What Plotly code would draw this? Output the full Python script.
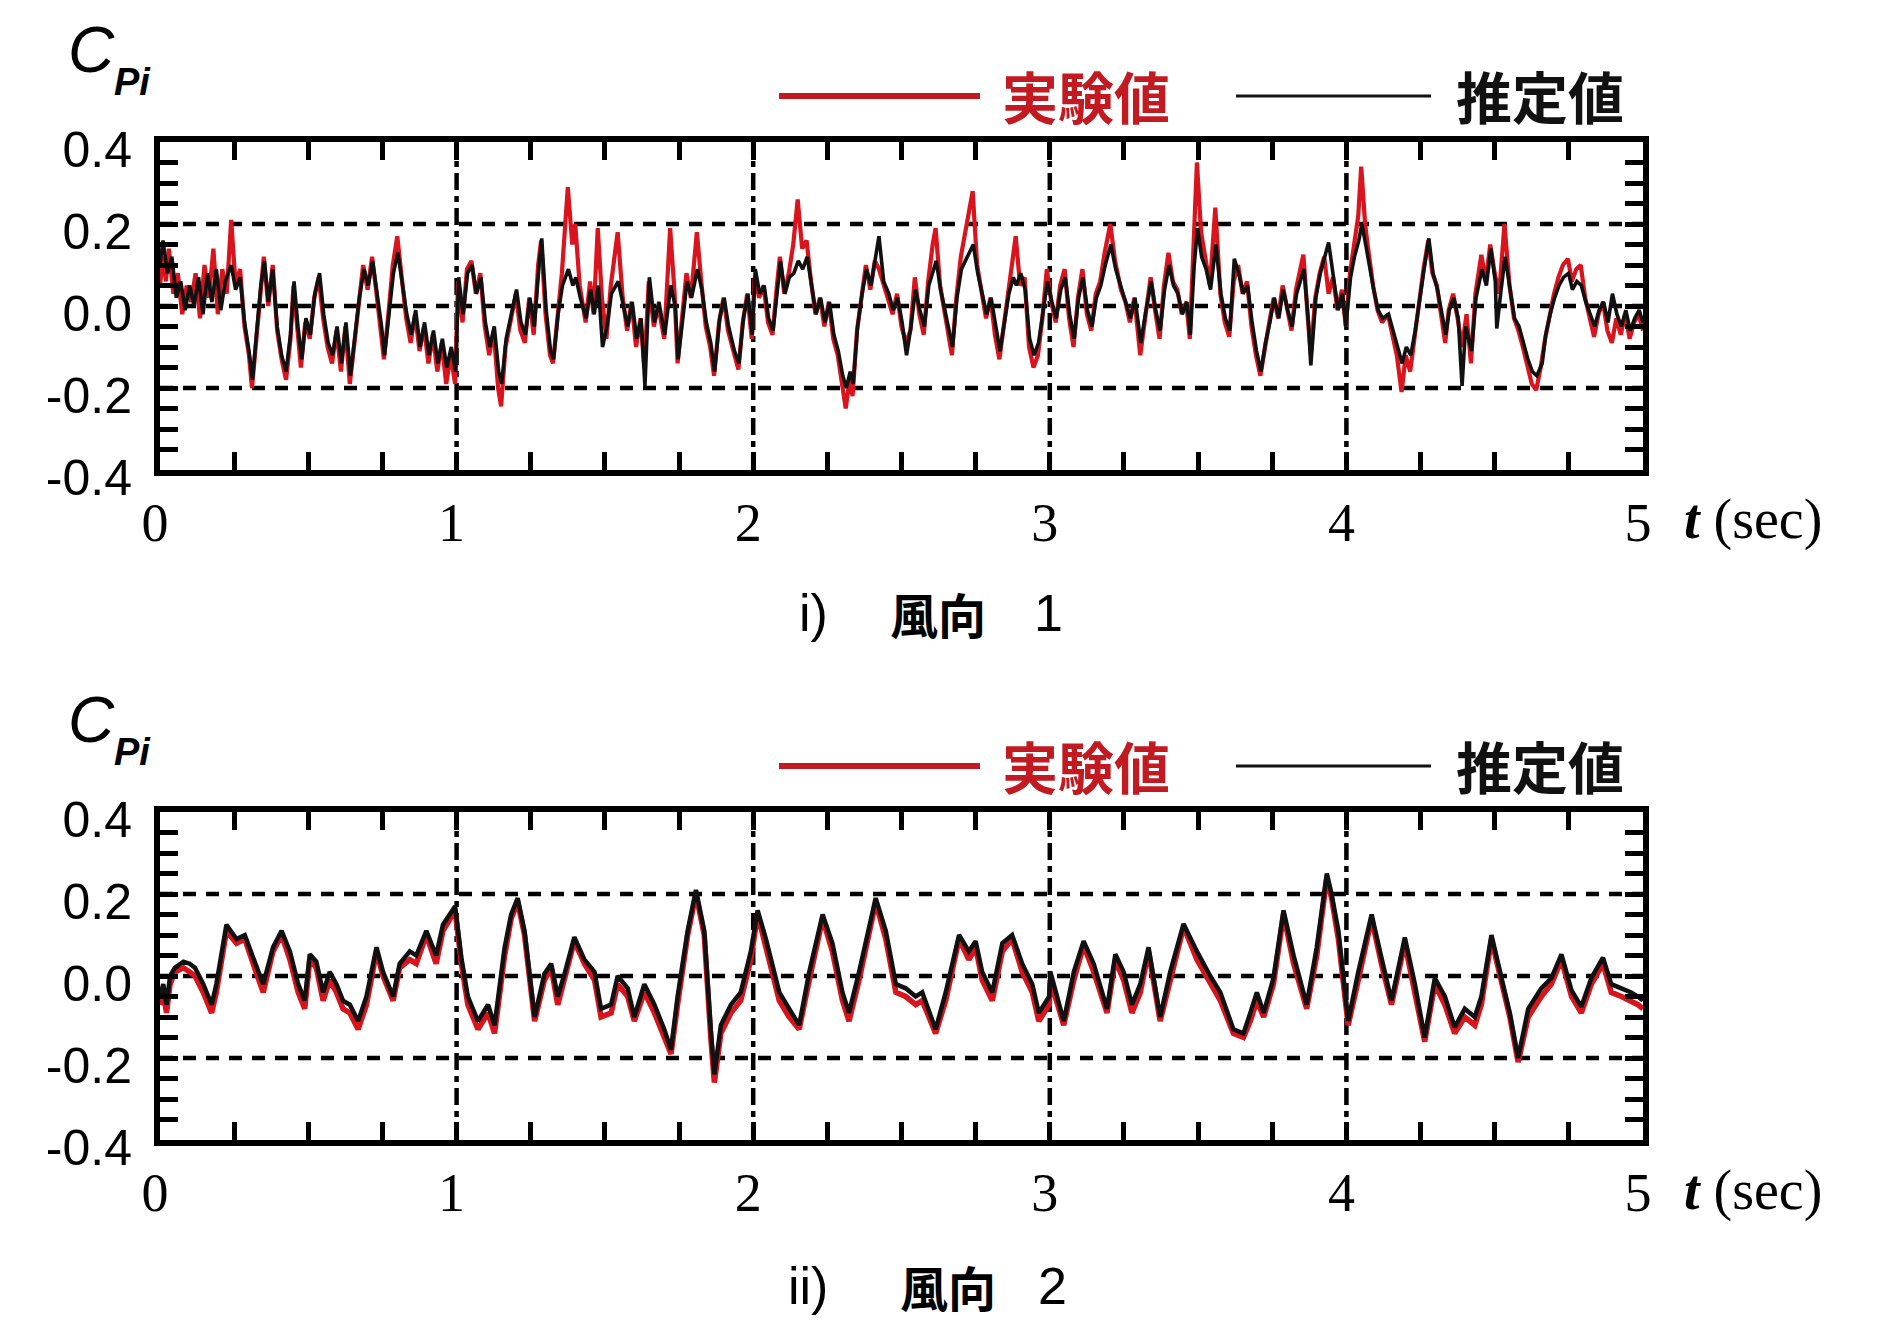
import plotly.graph_objects as go

W, H = 1886, 1321

# ---------------- data (t [sec], Cpi) ----------------
exp1 = [(0.000,0.05),(0.010,0.12),(0.020,0.06),(0.030,0.14),(0.045,0.03),(0.060,0.08),(0.075,-0.02),(0.090,0.05),(0.105,0.01),(0.120,0.08),
(0.135,-0.03),(0.150,0.10),(0.165,0.02),(0.180,0.14),(0.195,-0.02),(0.210,0.09),(0.225,0.03),(0.240,0.21),(0.255,0.05),(0.270,0.09),
(0.285,-0.05),(0.300,-0.12),(0.310,-0.20),(0.325,-0.08),(0.340,0.06),(0.350,0.12),(0.365,0.00),(0.380,0.10),(0.395,-0.06),(0.410,-0.13),
(0.425,-0.18),(0.440,-0.08),(0.450,0.05),(0.462,-0.06),(0.475,-0.15),(0.490,-0.04),(0.505,-0.08),(0.520,0.02),(0.535,0.07),(0.550,-0.03),
(0.565,-0.10),(0.580,-0.14),(0.595,-0.06),(0.610,-0.16),(0.625,-0.05),(0.640,-0.19),(0.655,-0.09),(0.670,0.02),(0.685,0.10),(0.700,0.04),
(0.715,0.12),(0.730,0.03),(0.745,-0.06),(0.755,-0.13),(0.770,-0.02),(0.785,0.10),(0.800,0.17),(0.815,0.06),(0.830,-0.03),(0.845,-0.09),
(0.860,-0.02),(0.875,-0.11),(0.890,-0.05),(0.905,-0.14),(0.920,-0.07),(0.935,-0.16),(0.950,-0.09),(0.965,-0.19),(0.980,-0.12),(0.995,-0.19),
(1.005,0.06),(1.020,-0.04),(1.035,0.09),(1.050,0.11),(1.065,0.03),(1.080,0.08),(1.095,-0.05),(1.110,-0.12),(1.125,-0.06),(1.140,-0.20),
(1.150,-0.245),(1.165,-0.10),(1.180,-0.04),(1.200,0.03),(1.215,-0.06),(1.230,-0.09),(1.245,0.02),(1.260,-0.07),(1.275,0.10),(1.285,0.16),
(1.300,-0.02),(1.315,-0.12),(1.325,-0.14),(1.340,-0.03),(1.355,0.08),(1.375,0.29),(1.390,0.15),(1.400,0.20),(1.415,0.05),(1.435,-0.04),
(1.450,0.06),(1.462,-0.02),(1.476,0.19),(1.490,0.02),(1.505,-0.08),(1.520,0.05),(1.543,0.18),(1.560,0.02),(1.575,-0.06),(1.590,0.01),
(1.605,-0.10),(1.620,-0.03),(1.633,-0.15),(1.648,0.06),(1.665,-0.05),(1.680,0.00),(1.700,-0.08),(1.720,0.19),(1.735,0.03),(1.745,-0.14),
(1.760,-0.04),(1.775,0.08),(1.790,0.02),(1.810,0.18),(1.825,0.06),(1.840,-0.05),(1.855,-0.10),(1.868,-0.17),(1.885,-0.04),(1.900,0.02),
(1.915,-0.06),(1.935,-0.12),(1.950,-0.155),(1.965,-0.04),(1.980,0.03),(1.995,-0.08),(2.005,0.07),(2.020,0.02),(2.035,0.05),(2.050,-0.04),
(2.065,-0.07),(2.080,0.05),(2.090,0.12),(2.105,0.03),(2.120,0.08),(2.135,0.15),(2.150,0.26),(2.165,0.14),(2.180,0.16),(2.195,0.06),
(2.210,-0.02),(2.225,0.02),(2.240,-0.05),(2.255,0.01),(2.270,-0.08),(2.285,-0.12),(2.300,-0.19),(2.312,-0.25),(2.325,-0.18),(2.335,-0.22),
(2.350,-0.06),(2.365,0.03),(2.380,0.10),(2.395,0.04),(2.410,0.11),(2.424,0.09),(2.440,0.05),(2.455,0.02),(2.470,-0.02),(2.485,0.03),
(2.500,-0.05),(2.515,-0.09),(2.530,-0.06),(2.545,0.07),(2.560,-0.02),(2.575,-0.07),(2.590,0.06),(2.605,0.15),(2.615,0.19),(2.630,0.05),
(2.645,-0.02),(2.660,-0.09),(2.670,-0.12),(2.685,0.02),(2.700,0.12),(2.720,0.20),(2.740,0.28),(2.755,0.10),(2.770,0.03),(2.785,-0.03),
(2.800,0.02),(2.815,-0.07),(2.830,-0.13),(2.845,-0.05),(2.860,0.04),(2.875,0.12),(2.885,0.17),(2.900,0.05),(2.915,0.07),(2.930,-0.10),
(2.945,-0.15),(2.960,-0.12),(2.975,-0.03),(2.990,0.09),(3.005,0.01),(3.020,-0.04),(3.035,0.05),(3.050,0.09),(3.065,-0.03),(3.080,-0.10),
(3.095,0.02),(3.110,0.09),(3.125,-0.02),(3.140,-0.06),(3.155,0.03),(3.170,0.06),(3.185,0.13),(3.204,0.20),(3.220,0.11),(3.240,0.04),
(3.255,0.01),(3.270,-0.04),(3.285,0.02),(3.305,-0.12),(3.320,-0.03),(3.340,0.07),(3.355,-0.01),(3.370,-0.08),(3.385,0.05),(3.400,0.13),
(3.415,0.06),(3.430,0.04),(3.445,-0.02),(3.460,0.01),(3.472,-0.08),(3.485,0.15),(3.496,0.35),(3.510,0.18),(3.525,0.12),(3.540,0.05),
(3.558,0.24),(3.575,0.03),(3.590,-0.04),(3.605,-0.075),(3.620,0.06),(3.635,0.10),(3.650,0.03),(3.665,0.06),(3.680,-0.05),(3.695,-0.12),
(3.710,-0.17),(3.725,-0.10),(3.740,-0.04),(3.755,0.02),(3.770,-0.03),(3.785,0.05),(3.800,-0.01),(3.815,-0.06),(3.830,0.04),(3.845,0.09),
(3.855,0.125),(3.870,-0.03),(3.880,-0.12),(3.895,0.02),(3.910,0.08),(3.925,0.12),(3.940,0.03),(3.955,0.07),(3.970,-0.01),(3.985,0.04),
(3.998,-0.05),(4.012,0.08),(4.025,0.15),(4.040,0.22),(4.050,0.34),(4.063,0.20),(4.075,0.13),(4.090,0.05),(4.105,-0.01),(4.120,-0.04),
(4.140,-0.02),(4.155,-0.07),(4.170,-0.12),(4.186,-0.21),(4.200,-0.12),(4.215,-0.16),(4.230,-0.07),(4.245,0.02),(4.260,0.09),(4.276,0.16),
(4.290,0.08),(4.305,0.05),(4.320,-0.02),(4.333,-0.09),(4.345,-0.01),(4.360,0.03),(4.375,-0.03),(4.390,-0.10),(4.405,-0.02),(4.420,-0.14),
(4.435,0.03),(4.455,0.125),(4.470,0.06),(4.485,0.15),(4.500,0.08),(4.515,0.03),(4.533,0.20),(4.550,0.05),(4.565,-0.03),(4.580,-0.06),
(4.595,-0.10),(4.610,-0.15),(4.625,-0.19),(4.640,-0.205),(4.655,-0.15),(4.670,-0.08),(4.685,-0.02),(4.700,0.03),(4.715,0.07),(4.730,0.10),
(4.747,0.115),(4.760,0.06),(4.775,0.09),(4.790,0.10),(4.805,0.02),(4.820,-0.03),(4.835,-0.075),(4.850,-0.02),(4.865,0.01),(4.880,-0.06),
(4.895,-0.09),(4.910,-0.03),(4.925,-0.07),(4.940,-0.02),(4.955,-0.08),(4.970,-0.04),(4.985,-0.02),(5.000,-0.06)]

est1 = [(0.000,0.10),(0.010,0.16),(0.025,0.08),(0.040,0.12),(0.055,0.02),(0.070,0.06),(0.085,-0.01),(0.100,0.05),(0.115,0.00),(0.130,0.07),
(0.145,-0.02),(0.160,0.08),(0.175,0.01),(0.190,0.09),(0.205,-0.01),(0.220,0.06),(0.240,0.10),(0.255,0.04),(0.270,0.07),(0.285,-0.04),
(0.300,-0.11),(0.312,-0.18),(0.325,-0.07),(0.340,0.05),(0.352,0.11),(0.365,0.01),(0.380,0.09),(0.395,-0.05),(0.410,-0.12),(0.425,-0.16),
(0.440,-0.07),(0.452,0.06),(0.465,-0.05),(0.478,-0.13),(0.492,-0.03),(0.507,-0.07),(0.522,0.03),(0.538,0.08),(0.552,-0.02),(0.567,-0.09),
(0.582,-0.12),(0.597,-0.05),(0.612,-0.14),(0.627,-0.04),(0.642,-0.17),(0.657,-0.08),(0.672,0.02),(0.688,0.09),(0.702,0.05),(0.717,0.11),
(0.732,0.03),(0.747,-0.05),(0.757,-0.12),(0.772,-0.01),(0.787,0.08),(0.802,0.13),(0.817,0.05),(0.832,-0.02),(0.847,-0.07),(0.862,-0.01),
(0.877,-0.10),(0.892,-0.04),(0.907,-0.12),(0.922,-0.06),(0.937,-0.14),(0.952,-0.08),(0.967,-0.15),(0.982,-0.10),(0.997,-0.16),(1.007,0.07),
(1.022,-0.02),(1.037,0.08),(1.052,0.10),(1.067,0.03),(1.082,0.07),(1.097,-0.04),(1.112,-0.10),(1.127,-0.05),(1.142,-0.16),(1.152,-0.19),
(1.167,-0.08),(1.182,-0.03),(1.202,0.04),(1.217,-0.04),(1.232,-0.07),(1.247,0.02),(1.262,-0.05),(1.277,0.09),(1.287,0.165),(1.302,-0.01),
(1.317,-0.11),(1.327,-0.13),(1.342,-0.02),(1.357,0.05),(1.377,0.09),(1.392,0.05),(1.402,0.07),(1.417,0.02),(1.437,-0.03),(1.452,0.04),
(1.464,-0.02),(1.478,0.05),(1.492,-0.10),(1.507,-0.05),(1.522,0.03),(1.545,0.06),(1.562,0.00),(1.577,-0.05),(1.592,0.01),(1.607,-0.08),
(1.622,-0.03),(1.635,-0.195),(1.650,0.07),(1.667,-0.04),(1.682,0.01),(1.702,-0.07),(1.722,0.05),(1.737,0.00),(1.747,-0.13),(1.762,-0.03),
(1.777,0.06),(1.792,0.02),(1.812,0.09),(1.827,0.04),(1.842,-0.04),(1.857,-0.09),(1.870,-0.16),(1.887,-0.03),(1.902,0.02),(1.917,-0.05),
(1.937,-0.11),(1.952,-0.14),(1.967,-0.03),(1.982,0.03),(1.997,-0.07),(2.007,0.09),(2.022,0.03),(2.037,0.05),(2.052,-0.03),(2.067,-0.06),
(2.082,0.04),(2.092,0.11),(2.107,0.03),(2.122,0.07),(2.137,0.08),(2.152,0.11),(2.167,0.09),(2.182,0.12),(2.197,0.05),(2.212,-0.02),
(2.227,0.02),(2.242,-0.04),(2.257,0.01),(2.272,-0.07),(2.287,-0.11),(2.302,-0.17),(2.314,-0.20),(2.327,-0.16),(2.337,-0.19),(2.352,-0.05),
(2.367,0.03),(2.382,0.09),(2.397,0.05),(2.412,0.12),(2.424,0.17),(2.440,0.06),(2.457,0.03),(2.472,-0.01),(2.487,0.02),(2.502,-0.04),
(2.517,-0.12),(2.532,-0.05),(2.547,0.04),(2.562,-0.01),(2.577,-0.05),(2.592,0.05),(2.607,0.09),(2.617,0.11),(2.632,0.04),(2.647,-0.01),
(2.662,-0.07),(2.672,-0.10),(2.687,0.02),(2.702,0.09),(2.722,0.12),(2.742,0.15),(2.757,0.08),(2.772,0.03),(2.787,-0.02),(2.802,0.02),
(2.817,-0.05),(2.832,-0.11),(2.847,-0.04),(2.862,0.03),(2.877,0.07),(2.887,0.05),(2.902,0.08),(2.917,0.04),(2.932,-0.08),(2.947,-0.12),
(2.962,-0.09),(2.977,-0.02),(2.992,0.06),(3.007,0.01),(3.022,-0.03),(3.037,0.04),(3.052,0.07),(3.067,-0.02),(3.082,-0.08),(3.097,0.02),
(3.112,0.07),(3.127,-0.01),(3.142,-0.05),(3.157,0.02),(3.172,0.05),(3.187,0.10),(3.206,0.15),(3.222,0.09),(3.242,0.04),(3.257,0.01),
(3.272,-0.03),(3.287,0.02),(3.307,-0.09),(3.322,-0.02),(3.342,0.06),(3.357,-0.01),(3.372,-0.06),(3.387,0.04),(3.402,0.10),(3.417,0.05),
(3.432,0.03),(3.447,-0.02),(3.462,0.01),(3.474,-0.07),(3.487,0.10),(3.498,0.19),(3.512,0.12),(3.527,0.09),(3.542,0.04),(3.560,0.15),
(3.577,0.03),(3.592,-0.03),(3.607,-0.06),(3.622,0.115),(3.637,0.08),(3.652,0.03),(3.667,0.05),(3.682,-0.04),(3.697,-0.11),(3.712,-0.16),
(3.727,-0.09),(3.742,-0.04),(3.757,0.02),(3.772,-0.03),(3.787,0.04),(3.802,-0.01),(3.817,-0.05),(3.832,0.03),(3.847,0.07),(3.857,0.09),
(3.872,-0.04),(3.880,-0.145),(3.897,0.02),(3.912,0.08),(3.940,0.155),(3.957,0.06),(3.972,-0.01),(3.987,0.03),(3.998,-0.05),(4.014,0.07),
(4.027,0.12),(4.042,0.16),(4.052,0.20),(4.065,0.15),(4.077,0.10),(4.092,0.04),(4.107,-0.01),(4.122,-0.03),(4.142,-0.02),(4.157,-0.06),
(4.172,-0.10),(4.188,-0.14),(4.202,-0.10),(4.217,-0.12),(4.232,-0.06),(4.247,0.02),(4.262,0.09),(4.278,0.165),(4.292,0.08),(4.307,0.04),
(4.322,-0.02),(4.335,-0.07),(4.347,-0.01),(4.362,0.02),(4.377,-0.03),(4.390,-0.195),(4.402,-0.05),(4.422,-0.11),(4.437,0.02),(4.457,0.09),
(4.472,0.05),(4.487,0.14),(4.502,0.06),(4.507,-0.055),(4.520,0.03),(4.535,0.12),(4.552,0.04),(4.567,-0.03),(4.582,-0.05),(4.597,-0.09),
(4.612,-0.13),(4.627,-0.16),(4.642,-0.17),(4.660,-0.14),(4.672,-0.07),(4.687,-0.02),(4.702,0.02),(4.717,0.05),(4.732,0.07),(4.749,0.08),
(4.762,0.04),(4.777,0.06),(4.792,0.05),(4.807,0.01),(4.822,-0.02),(4.837,-0.05),(4.852,-0.01),(4.867,0.01),(4.882,-0.04),(4.897,0.03),
(4.912,-0.02),(4.927,-0.05),(4.942,-0.01),(4.957,-0.06),(4.972,-0.03),(4.987,-0.01),(5.000,-0.04)]

exp2 = [(0.000,-0.07),(0.011,-0.04),(0.022,-0.09),(0.034,-0.02),(0.050,0.01),(0.079,0.02),(0.100,0.01),(0.118,0.00),(0.146,-0.04),(0.174,-0.09),
(0.190,-0.04),(0.224,0.11),(0.258,0.08),(0.286,0.09),(0.314,0.03),(0.348,-0.04),(0.381,0.06),(0.410,0.10),(0.438,0.04),(0.466,-0.04),
(0.488,-0.08),(0.505,0.04),(0.527,0.02),(0.550,-0.06),(0.572,-0.01),(0.595,-0.04),(0.617,-0.08),(0.640,-0.09),(0.668,-0.13),(0.696,-0.07),
(0.730,0.06),(0.752,0.00),(0.786,-0.06),(0.808,0.02),(0.842,0.04),(0.864,0.03),(0.898,0.10),(0.931,0.03),(0.954,0.11),(0.988,0.15),
(0.995,0.16),(1.016,0.03),(1.038,-0.07),(1.072,-0.13),(1.106,-0.09),(1.128,-0.14),(1.162,0.05),(1.184,0.14),(1.206,0.18),(1.229,0.10),
(1.263,-0.11),(1.296,-0.01),(1.319,0.02),(1.341,-0.07),(1.364,-0.01),(1.397,0.085),(1.431,0.03),(1.465,-0.01),(1.487,-0.10),(1.521,-0.09),
(1.543,-0.02),(1.577,-0.05),(1.599,-0.11),(1.633,-0.04),(1.667,-0.09),(1.700,-0.15),(1.723,-0.19),(1.745,-0.07),(1.779,0.10),(1.807,0.20),
(1.835,0.10),(1.857,-0.15),(1.869,-0.26),(1.891,-0.14),(1.925,-0.09),(1.958,-0.06),(1.992,0.04),(2.015,0.15),(2.043,0.07),(2.088,-0.06),
(2.121,-0.10),(2.155,-0.13),(2.189,-0.01),(2.234,0.14),(2.267,0.06),(2.301,-0.06),(2.323,-0.11),(2.357,-0.01),(2.413,0.18),(2.447,0.09),
(2.481,-0.04),(2.514,-0.05),(2.548,-0.07),(2.570,-0.06),(2.615,-0.14),(2.649,-0.06),(2.694,0.09),(2.727,0.04),(2.750,0.07),(2.772,-0.01),
(2.806,-0.06),(2.840,0.06),(2.873,0.09),(2.907,0.01),(2.941,-0.04),(2.963,-0.11),(2.998,-0.07),(3.002,-0.01),(3.047,-0.12),(3.081,-0.01),
(3.114,0.075),(3.148,0.01),(3.193,-0.09),(3.221,0.04),(3.249,-0.01),(3.277,-0.09),(3.305,-0.04),(3.333,0.06),(3.372,-0.11),(3.406,-0.01),
(3.451,0.12),(3.496,0.04),(3.541,-0.02),(3.575,-0.06),(3.619,-0.14),(3.653,-0.15),(3.676,-0.11),(3.698,-0.06),(3.721,-0.10),(3.754,-0.02),
(3.788,0.15),(3.822,0.03),(3.866,-0.08),(3.900,0.05),(3.934,0.24),(3.950,0.19),(3.973,0.09),(4.006,-0.12),(4.040,-0.01),(4.085,0.14),
(4.118,0.03),(4.152,-0.07),(4.197,0.08),(4.231,-0.04),(4.264,-0.16),(4.298,-0.02),(4.332,-0.07),(4.365,-0.14),(4.399,-0.10),(4.433,-0.12),
(4.455,-0.07),(4.489,0.09),(4.523,-0.02),(4.551,-0.10),(4.579,-0.21),(4.613,-0.10),(4.657,-0.05),(4.691,-0.02),(4.725,0.04),(4.759,-0.05),
(4.792,-0.09),(4.826,-0.02),(4.865,0.03),(4.893,-0.04),(4.927,-0.05),(4.960,-0.06),(4.983,-0.07),(5.000,-0.08)]

est2 = [(0.000,-0.05),(0.011,-0.02),(0.022,-0.07),(0.034,0.00),(0.050,0.02),(0.079,0.035),(0.100,0.03),(0.118,0.02),(0.146,-0.02),(0.174,-0.07),
(0.190,-0.02),(0.224,0.125),(0.258,0.09),(0.286,0.10),(0.314,0.045),(0.348,-0.02),(0.381,0.07),(0.410,0.11),(0.438,0.06),(0.466,-0.02),
(0.488,-0.06),(0.505,0.053),(0.527,0.035),(0.550,-0.04),(0.572,0.01),(0.595,-0.02),(0.617,-0.06),(0.640,-0.07),(0.668,-0.11),(0.696,-0.05),
(0.730,0.07),(0.752,0.01),(0.786,-0.05),(0.808,0.03),(0.842,0.06),(0.864,0.05),(0.898,0.11),(0.931,0.05),(0.954,0.125),(0.988,0.16),
(0.995,0.17),(1.016,0.045),(1.038,-0.05),(1.072,-0.11),(1.106,-0.07),(1.128,-0.12),(1.162,0.07),(1.184,0.15),(1.206,0.19),(1.229,0.11),
(1.263,-0.10),(1.296,0.005),(1.319,0.03),(1.341,-0.05),(1.364,0.005),(1.397,0.095),(1.431,0.04),(1.465,0.01),(1.487,-0.08),(1.521,-0.07),
(1.543,0.00),(1.577,-0.03),(1.599,-0.10),(1.633,-0.02),(1.667,-0.07),(1.700,-0.13),(1.723,-0.18),(1.745,-0.05),(1.779,0.11),(1.807,0.21),
(1.835,0.11),(1.857,-0.13),(1.869,-0.24),(1.891,-0.12),(1.925,-0.07),(1.958,-0.04),(1.992,0.06),(2.015,0.16),(2.043,0.09),(2.088,-0.04),
(2.121,-0.08),(2.155,-0.12),(2.189,0.01),(2.234,0.15),(2.267,0.08),(2.301,-0.04),(2.323,-0.09),(2.357,0.01),(2.413,0.19),(2.447,0.11),
(2.481,-0.02),(2.514,-0.03),(2.548,-0.05),(2.570,-0.04),(2.615,-0.13),(2.649,-0.04),(2.694,0.10),(2.727,0.06),(2.750,0.085),(2.772,0.01),
(2.806,-0.04),(2.840,0.08),(2.873,0.10),(2.907,0.03),(2.941,-0.02),(2.963,-0.09),(2.998,-0.05),(3.002,0.01),(3.047,-0.11),(3.081,0.01),
(3.114,0.085),(3.148,0.03),(3.193,-0.08),(3.221,0.053),(3.249,0.01),(3.277,-0.07),(3.305,-0.02),(3.333,0.07),(3.372,-0.10),(3.406,0.01),
(3.451,0.127),(3.496,0.06),(3.541,0.00),(3.575,-0.04),(3.619,-0.13),(3.653,-0.14),(3.676,-0.09),(3.698,-0.04),(3.721,-0.09),(3.754,-0.005),
(3.788,0.16),(3.822,0.05),(3.866,-0.07),(3.900,0.07),(3.934,0.25),(3.950,0.20),(3.973,0.11),(4.006,-0.11),(4.040,0.01),(4.085,0.15),
(4.118,0.045),(4.152,-0.06),(4.197,0.094),(4.231,-0.02),(4.264,-0.15),(4.298,-0.005),(4.332,-0.05),(4.365,-0.125),(4.399,-0.08),(4.433,-0.10),
(4.455,-0.05),(4.489,0.10),(4.523,-0.005),(4.551,-0.09),(4.579,-0.20),(4.613,-0.08),(4.657,-0.03),(4.691,-0.005),(4.725,0.053),(4.759,-0.035),
(4.792,-0.075),(4.826,-0.005),(4.865,0.045),(4.893,-0.02),(4.927,-0.03),(4.960,-0.04),(4.983,-0.05),(5.000,-0.06)]

series_names = ["実験値", "推定値"]
panel_labels = ["i)", "ii)"]
panel_titles = ["風向", "風向"]
panel_numbers = ["1", "2"]
x_ticks = [0, 1, 2, 3, 4, 5]
x_ticklabels = ["0", "1", "2", "3", "4", "5"]
y_ticks = [-0.4, -0.2, 0.0, 0.2, 0.4]
y_ticklabels = ["-0.4", "-0.2", "0.0", "0.2", "0.4"]
y_gridvals = [-0.2, 0.0, 0.2]
x_gridvals = [1, 2, 3, 4]

RED = "#d9141c"
BLACK = "#111111"


def px(x):
    return x / W


def py(y):
    return 1 - y / H


fig = go.Figure()

panels = [
    dict(exp=exp1, est=est1, xa="x", ya="y", top=142, bot=470),
    dict(exp=exp2, est=est2, xa="x2", ya="y2", top=812, bot=1140),
]

for i, p in enumerate(panels):
    fig.add_trace(go.Scatter(x=[a for a, b in p["exp"]], y=[b for a, b in p["exp"]],
                             mode="lines", line=dict(color=RED, width=4.2 if i == 0 else 5.5),
                             xaxis=p["xa"], yaxis=p["ya"], showlegend=False))
    fig.add_trace(go.Scatter(x=[a for a, b in p["est"]], y=[b for a, b in p["est"]],
                             mode="lines", line=dict(color=BLACK, width=3.6 if i == 0 else 4.5),
                             xaxis=p["xa"], yaxis=p["ya"], showlegend=False))

x_dom = [px(160), px(1643)]


def xaxis_cfg(anchor):
    return dict(domain=x_dom, range=[0, 5], anchor=anchor, automargin=False,
                showline=True, linewidth=6, linecolor="black", mirror="ticks",
                ticks="inside", ticklen=18, tickwidth=5, tickcolor="black",
                tickmode="array", tickvals=x_ticks, ticktext=x_ticklabels,
                tickfont=dict(family="Liberation Serif", size=54, color="black"),
                ticklabelstandoff=0, ticklabelshift=-5,
                minor=dict(tickmode="linear", tick0=0, dtick=0.25, ticks="inside",
                           ticklen=18, tickwidth=5, tickcolor="black", showgrid=False),
                showgrid=False, zeroline=False, fixedrange=True)


def yaxis_cfg(anchor, top, bot):
    return dict(domain=[py(bot), py(top)], range=[-0.4, 0.4], anchor=anchor, automargin=False,
                showline=True, linewidth=6, linecolor="black", mirror="ticks",
                ticks="inside", ticklen=18, tickwidth=5, tickcolor="black",
                tickmode="array", tickvals=y_ticks, ticktext=y_ticklabels,
                tickfont=dict(family="Liberation Sans", size=50, color="black"),
                ticklabelstandoff=12, ticklabelshift=7,
                minor=dict(tickmode="linear", tick0=0, dtick=0.05, ticks="inside",
                           ticklen=18, tickwidth=5, tickcolor="black", showgrid=False),
                showgrid=False, zeroline=False, fixedrange=True)


fig.update_layout(
    xaxis=xaxis_cfg("y"), yaxis=yaxis_cfg("x", 142, 470),
    xaxis2=xaxis_cfg("y2"), yaxis2=yaxis_cfg("x2", 812, 1140),
)

shapes = []
annotations = []
for i, p in enumerate(panels):
    xa, ya = p["xa"], p["ya"]
    for gv in y_gridvals:
        shapes.append(dict(type="line", xref=f"{xa} domain", yref=ya, x0=0, x1=1, y0=gv, y1=gv,
                           line=dict(color="black", width=4.5, dash="13px,10px"), layer="below"))
    for gv in x_gridvals:
        shapes.append(dict(type="line", xref=xa, yref=f"{ya} domain", x0=gv, x1=gv, y0=0, y1=1,
                           line=dict(color="black", width=4.5, dash="17px,6px,6px,6px"), layer="below"))
    off = p["top"] - 142
    # legend keys
    ly = 96 + off
    shapes.append(dict(type="line", xref="paper", yref="paper", x0=px(779), x1=px(980), y0=py(ly), y1=py(ly),
                       line=dict(color="#c21a20", width=6)))
    shapes.append(dict(type="line", xref="paper", yref="paper", x0=px(1236), x1=px(1431), y0=py(ly), y1=py(ly),
                       line=dict(color=BLACK, width=3)))
    annotations.append(dict(xref="paper", yref="paper", x=px(1000), y=py(ly - 2), xanchor="left", yanchor="middle",
                            text=f"<b>{series_names[0]}</b>", showarrow=False,
                            font=dict(family="Noto Sans CJK JP", size=56, color="#c21a20")))
    annotations.append(dict(xref="paper", yref="paper", x=px(1454), y=py(ly - 2), xanchor="left", yanchor="middle",
                            text=f"<b>{series_names[1]}</b>", showarrow=False,
                            font=dict(family="Noto Sans CJK JP", size=56, color=BLACK)))
    # C_Pi label
    annotations.append(dict(xref="paper", yref="paper", x=px(91), y=py(50 + off), xanchor="center", yanchor="middle",
                            text="<i>C</i>", showarrow=False,
                            font=dict(family="Liberation Sans", size=64, color="black")))
    annotations.append(dict(xref="paper", yref="paper", x=px(132), y=py(82 + off), xanchor="center", yanchor="middle",
                            text="<b><i>Pi</i></b>", showarrow=False,
                            font=dict(family="Liberation Sans", size=38, color="black")))
    # t (sec)
    annotations.append(dict(xref="paper", yref="paper", x=px(1682), y=py(520 + off), xanchor="left", yanchor="middle",
                            text="<b><i>t</i></b> (sec)", showarrow=False,
                            font=dict(family="Liberation Serif", size=56, color="black")))
    # panel caption
    cy = 613 + (1286 - 613) * i
    annotations.append(dict(xref="paper", yref="paper", x=px(830), y=py(cy), xanchor="right", yanchor="middle",
                            text=panel_labels[i], showarrow=False,
                            font=dict(family="Liberation Sans", size=52, color="black")))
    annotations.append(dict(xref="paper", yref="paper", x=px(888 + 10 * i), y=py(cy), xanchor="left", yanchor="middle",
                            text=f"<b>{panel_titles[i]}</b>", showarrow=False,
                            font=dict(family="Noto Sans CJK JP", size=48, color="black")))
    annotations.append(dict(xref="paper", yref="paper", x=px(1032 + 4 * i), y=py(cy), xanchor="left", yanchor="middle",
                            text=panel_numbers[i], showarrow=False,
                            font=dict(family="Liberation Sans", size=52, color="black")))

fig.update_layout(
    width=W, height=H, autosize=False,
    margin=dict(l=0, r=0, t=0, b=0),
    paper_bgcolor="white", plot_bgcolor="white",
    shapes=shapes, annotations=annotations, showlegend=False,
)

fig.write_html("out.html", config={"displayModeBar": False},
               post_script="document.body.style.margin='0';document.body.style.overflow='hidden';")
